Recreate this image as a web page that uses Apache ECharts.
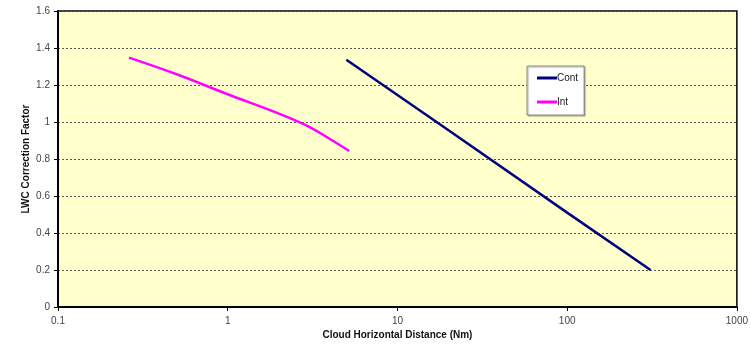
<!DOCTYPE html>
<html>
<head>
<meta charset="utf-8">
<style>
  html, body { margin: 0; padding: 0; background: #ffffff; }
  #chart { width: 751px; height: 348px; }
</style>
<script src="https://cdn.jsdelivr.net/npm/echarts@6/dist/echarts.min.js"></script>
</head>
<body>
<div id="chart"></div>
<script>
// Continuous-exposure curve: distance (Nm) and correction factor
const contDistance = [5.0, 20, 100, 310];
const contFactor   = [1.337, 0.955, 0.51, 0.2];

// Intermittent-exposure curve
const intDistance = [0.262, 0.5, 1.0, 2.0, 3.0, 4.0, 5.2];
const intFactor   = [1.348, 1.258, 1.15, 1.045, 0.975, 0.908, 0.843];

const seriesNames = ['Cont', 'Int'];
const yTicks = [0, 0.2, 0.4, 0.6, 0.8, 1, 1.2, 1.4, 1.6];

const pairs = (xs, ys) => xs.map((x, i) => [x, ys[i]]);

const chart = echarts.init(document.getElementById('chart'), null, { renderer: 'canvas' });

chart.setOption({
  animation: false,
  backgroundColor: '#ffffff',
  textStyle: { fontFamily: 'Liberation Sans, Arial, sans-serif' },
  grid: {
    left: 58, top: 11, right: 11, bottom: 41,
    show: true,
    backgroundColor: '#ffffcc',
    borderColor: '#000000',
    borderWidth: 1.5
  },
  legend: {
    data: seriesNames,
    orient: 'vertical',
    left: 527,
    top: 66,
    padding: [7, 6, 8, 10],
    itemGap: 14,
    itemWidth: 20,
    itemHeight: 3,
    icon: 'rect',
    backgroundColor: '#ffffff',
    borderColor: '#888888',
    borderWidth: 1,
    shadowColor: 'rgba(0,0,0,0.35)',
    shadowOffsetX: 1,
    shadowOffsetY: 1,
    shadowBlur: 1,
    textStyle: { fontSize: 10, color: '#222222', padding: [0, 0, 0, -5] }
  },
  xAxis: {
    type: 'log',
    logBase: 10,
    min: 0.1,
    max: 1000,
    name: 'Cloud Horizontal Distance (Nm)',
    nameLocation: 'middle',
    nameGap: 23,
    nameMoveOverlap: false,
    nameTextStyle: { fontSize: 10, fontWeight: 'bold', color: '#111111' },
    axisLine: { show: true, onZero: false, lineStyle: { color: '#000000', width: 2 } },
    axisTick: { show: true, inside: false, length: 4, lineStyle: { color: '#000000' } },
    minorTick: { show: false },
    splitLine: { show: false },
    axisLabel: {
      fontSize: 10, color: '#444444', margin: 9,
      formatter: v => String(+v.toPrecision(6))
    }
  },
  yAxis: {
    type: 'value',
    min: 0,
    max: 1.6,
    interval: 0.2,
    name: 'LWC Correction Factor',
    nameLocation: 'middle',
    nameGap: 27,
    nameMoveOverlap: false,
    nameTextStyle: { fontSize: 10, fontWeight: 'bold', color: '#111111' },
    axisLine: { show: true, lineStyle: { color: '#000000', width: 2 } },
    axisTick: { show: true, length: 4, lineStyle: { color: '#000000' } },
    splitLine: { show: true, lineStyle: { color: '#555555', type: [2, 2], width: 1 } },
    axisLabel: {
      fontSize: 10, color: '#444444', margin: 8,
      formatter: v => {
        const t = yTicks.find(k => Math.abs(k - v) < 1e-9);
        return String(t !== undefined ? t : +v.toFixed(1));
      }
    }
  },
  series: [
    {
      name: seriesNames[0],
      type: 'line',
      data: pairs(contDistance, contFactor),
      showSymbol: false,
      symbol: 'none',
      lineStyle: { color: '#000080', width: 2.5 },
      itemStyle: { color: '#000080' }
    },
    {
      name: seriesNames[1],
      type: 'line',
      data: pairs(intDistance, intFactor),
      showSymbol: false,
      symbol: 'none',
      smooth: 0.4,
      lineStyle: { color: '#ff00ff', width: 2.5 },
      itemStyle: { color: '#ff00ff' }
    }
  ]
});
</script>
</body>
</html>
